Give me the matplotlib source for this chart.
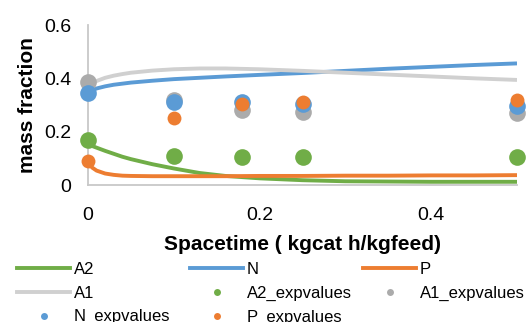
import matplotlib
matplotlib.use("Agg")
import matplotlib.pyplot as plt
from matplotlib.lines import Line2D

plt.rcParams['font.family'] = ['Liberation Sans', 'DejaVu Sans']

# model curves
x_model = [0, 0.005, 0.01, 0.02, 0.03, 0.04, 0.05, 0.075, 0.1, 0.13, 0.16, 0.2, 0.25, 0.3, 0.35, 0.4, 0.45, 0.5]
A2 = [0.152, 0.146, 0.14, 0.128, 0.117, 0.106, 0.097, 0.078, 0.062, 0.045, 0.034, 0.025, 0.018, 0.014, 0.013, 0.012, 0.012, 0.012]
N = [0.345, 0.355, 0.362, 0.37, 0.376, 0.38, 0.384, 0.391, 0.397, 0.402, 0.407, 0.413, 0.42, 0.428, 0.436, 0.443, 0.45, 0.456]
P = [0.085, 0.065, 0.054, 0.043, 0.038, 0.035, 0.034, 0.033, 0.033, 0.033, 0.033, 0.034, 0.034, 0.035, 0.035, 0.036, 0.036, 0.037]
A1 = [0.372, 0.382, 0.39, 0.402, 0.41, 0.416, 0.421, 0.429, 0.434, 0.437, 0.437, 0.434, 0.428, 0.421, 0.414, 0.407, 0.4, 0.394]

# experimental points
x_exp = [0, 0.1, 0.18, 0.25, 0.5]
A2_exp = [0.17, 0.11, 0.105, 0.105, 0.104]
A1_exp = [0.385, 0.32, 0.28, 0.272, 0.27]
N_exp = [0.345, 0.313, 0.31, 0.305, 0.298]
P_exp = [0.09, 0.25, 0.302, 0.31, 0.32]

green = '#70AD47'
blue = '#5B9BD5'
orange = '#ED7D31'
grey_line = '#D0D0D0'
grey_pt = '#ABABAB'

fig = plt.figure(figsize=(5.27, 3.22), dpi=100)
ax = fig.add_axes([88/527, 137/322, 429/527, 160/322])

ax.plot(x_model, A2, color=green, lw=2.8, solid_capstyle='butt', zorder=2)
ax.plot(x_model, N, color=blue, lw=2.8, solid_capstyle='butt', zorder=2)
ax.plot(x_model, P, color=orange, lw=2.8, solid_capstyle='butt', zorder=2)
ax.plot(x_model, A1, color=grey_line, lw=2.8, solid_capstyle='butt', zorder=2)

ax.plot(x_exp, A2_exp, 'o', color=green, ms=12, mew=0, zorder=3, clip_on=False)
ax.plot(x_exp, A1_exp, 'o', color=grey_pt, ms=12, mew=0, zorder=3, clip_on=False)
ax.plot(x_exp, N_exp, 'o', color=blue, ms=12, mew=0, zorder=3, clip_on=False)
ax.plot(x_exp, P_exp, 'o', color=orange, ms=10, mew=0, zorder=3, clip_on=False)

ax.set_xlim(0, 0.5)
ax.set_ylim(0, 0.6)
ax.set_xticks([0, 0.2, 0.4])
ax.set_xticklabels(['0', '0.2', '0.4'])
ax.set_yticks([0, 0.2, 0.4, 0.6])
ax.set_yticklabels(['0', '0.2', '0.4', '0.6'])
ax.tick_params(length=0, labelsize=14, colors='#000000')
ax.tick_params(axis='y', pad=12)
ax.tick_params(axis='x', pad=16)
for s in ['top', 'right']:
    ax.spines[s].set_visible(False)
for s in ['left', 'bottom']:
    ax.spines[s].set_color('#C8C8C8')
    ax.spines[s].set_linewidth(1.3)

ax.set_xlabel('Spacetime ( kgcat h/kgfeed)', fontsize=15, fontweight='bold', labelpad=8)
ax.set_ylabel('mass fraction', fontsize=15, fontweight='bold', labelpad=5)

# legend, three columns laid out like the original
def line_h(c):
    return Line2D([], [], color=c, lw=2.8)

def dot_h(c):
    return Line2D([], [], color=c, marker='o', ls='none', ms=5, mew=0)

cols = [
    ([line_h(green), line_h(grey_line), dot_h(blue)], ['A2', 'A1', 'N_expvalues'], 17),
    ([line_h(blue), dot_h(green), dot_h(orange)], ['N', 'A2_expvalues', 'P_expvalues'], 190),
    ([line_h(orange), dot_h(grey_pt)], ['P', 'A1_expvalues'], 363),
]
for hs, labs, xpix in cols:
    leg = fig.legend(hs, labs, loc='upper left', bbox_to_anchor=(xpix/527, 1 - 262/322),
                     frameon=False, fontsize=12, handlelength=3.2, handletextpad=0.2,
                     labelspacing=0.52, borderpad=0, borderaxespad=0)

fig.savefig('out.png', dpi=100)
